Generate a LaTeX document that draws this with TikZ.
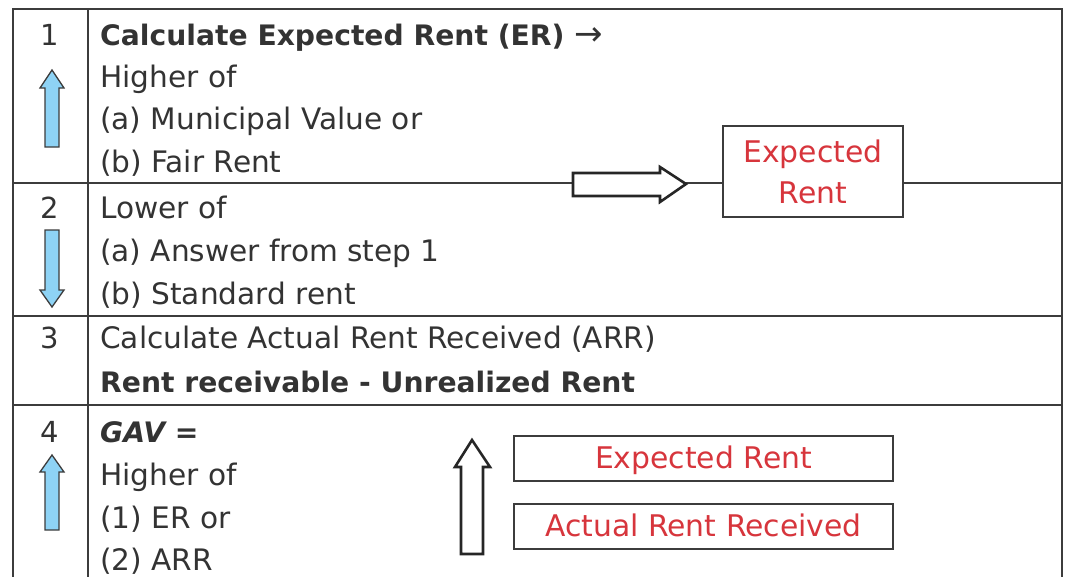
\documentclass[tikz,border=0pt]{standalone}
\usepackage{fontspec}
\setmainfont{DejaVu Sans}
\definecolor{rule}{HTML}{3C3C3C}
\definecolor{ink}{HTML}{333333}
\definecolor{rentred}{HTML}{D7353C}
\definecolor{stepblue}{HTML}{8ED3F5}
\tikzset{
  grid/.style={draw=rule, line width=2.6pt},
  body/.style={anchor=base west, inner sep=0pt, text=ink, font=\fontsize{29.6}{34}\selectfont},
  bodybold/.style={body, font=\fontsize{28.2}{34}\selectfont\bfseries},
  stepno/.style={anchor=base, inner sep=0pt, text=ink, font=\fontsize{29}{34}\selectfont},
  redbox/.style={draw=rule, line width=2.6pt, fill=white, text=rentred, align=center, inner sep=0pt,
                 font=\fontsize{29.8}{41}\selectfont},
  bluearrow/.style={draw=rule, line width=1.3pt, fill=stepblue, line join=miter},
  hollowarrow/.style={draw=black!85, line width=2.6pt, fill=white, line join=miter},
}
\begin{document}
\begin{tikzpicture}[x=1pt, y=-1pt]
  \useasboundingbox (0,0) rectangle (1071,576);

  % table frame and row rules
  \draw[grid] (13,590) -- (13,9) -- (1062,9) -- (1062,590);
  \draw[grid] (88,9) -- (88,590);
  \draw[grid] (13,183) -- (1062,183);
  \draw[grid] (13,316) -- (1062,316);
  \draw[grid] (13,405) -- (1062,405);

  % step numbers
  \node[stepno] (n1) at (50,45)  {1};
  \node[stepno] (n2) at (50,218) {2};
  \node[stepno] (n3) at (50,348) {3};
  \node[stepno] (n4) at (50,442) {4};

  % step 1
  \node[bodybold] (s1a) at (100,45)  {Calculate Expected Rent (ER) {\mdseries\fontsize{34}{34}\selectfont →}};
  \node[body]     (s1b) at (100,87)  {Higher of};
  \node[body]     (s1c) at (100,129.5) {(a) Municipal Value or};
  \node[body]     (s1d) at (100,172) {(b) Fair Rent};

  % step 2
  \node[body] (s2a) at (100,218) {Lower of};
  \node[body] (s2b) at (100,261) {(a) Answer from step 1};
  \node[body] (s2c) at (100,304) {(b) Standard rent};

  % step 3
  \node[body]     (s3a) at (100,348) {Calculate Actual Rent Received (ARR)};
  \node[bodybold] (s3b) at (100,392) {Rent receivable - Unrealized Rent};

  % step 4
  \node[bodybold, font=\fontsize{28.2}{34}\selectfont\bfseries\itshape] (s4a) at (100,442) {GAV =};
  \node[body] (s4b) at (100,485) {Higher of};
  \node[body] (s4c) at (100,528) {(1) ER or};
  \node[body] (s4d) at (100,570) {(2) ARR};

  % direction markers in the step column
  \draw[bluearrow] (52,70) -- (64,88) -- (59,88) -- (59,147) -- (45,147) -- (45,88) -- (40,88) -- cycle;
  \draw[bluearrow] (52,307) -- (64,290) -- (59,290) -- (59,230) -- (45,230) -- (45,290) -- (40,290) -- cycle;
  \draw[bluearrow] (52,455) -- (64,472) -- (59,472) -- (59,530) -- (45,530) -- (45,472) -- (40,472) -- cycle;

  % result of steps 1 and 2
  \draw[hollowarrow] (686,184) -- (660,202) -- (660,196) -- (573,196) -- (573,173) -- (660,173) -- (660,167) -- cycle;
  \node[redbox, minimum width=180pt, minimum height=91pt] (er) at (813,171.5) {Expected\\Rent};

  % comparison for GAV
  \draw[hollowarrow] (472,440) -- (490,467) -- (483,467) -- (483,554) -- (461,554) -- (461,467) -- (455,467) -- cycle;
  \node[redbox, minimum width=379pt, minimum height=45pt, text depth=2pt] (erbox) at (703.5,458.5) {Expected Rent};
  \node[redbox, minimum width=379pt, minimum height=45pt, text depth=2pt] (arrbox) at (703.5,526.5) {Actual Rent Received};
\end{tikzpicture}
\end{document}
